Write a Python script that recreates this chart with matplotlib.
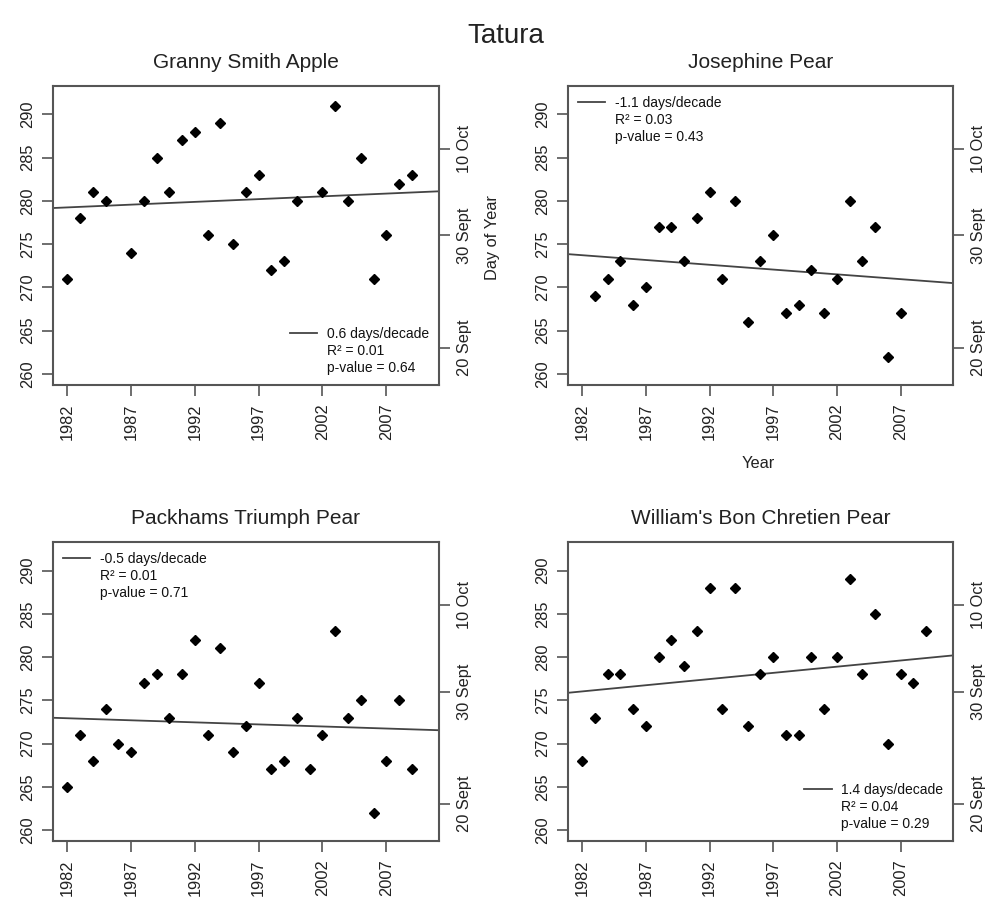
import numpy as np
import matplotlib
matplotlib.use('Agg')
import matplotlib.pyplot as plt
from matplotlib.lines import Line2D

plt.rcParams['font.family'] = ['Liberation Sans', 'DejaVu Sans']

# Data (harvest day of year)
years_granny = [1982, 1983, 1984, 1985, 1987, 1988, 1989, 1990, 1991, 1992, 1993, 1994, 1995, 1996,
                1997, 1998, 1999, 2000, 2002, 2003, 2004, 2005, 2006, 2007, 2008, 2009]
doy_granny = [271, 278, 281, 280, 274, 280, 285, 281, 287, 288, 276, 289, 275, 281,
              283, 272, 273, 280, 281, 291, 280, 285, 271, 276, 282, 283]

years_josephine = [1983, 1984, 1985, 1986, 1987, 1988, 1989, 1990, 1991, 1992, 1993, 1994, 1995,
                   1996, 1997, 1998, 1999, 2000, 2001, 2002, 2003, 2004, 2005, 2006, 2007]
doy_josephine = [269, 271, 273, 268, 270, 277, 277, 273, 278, 281, 271, 280, 266,
                 273, 276, 267, 268, 272, 267, 271, 280, 273, 277, 262, 267]

years_packham = list(range(1982, 2010))
doy_packham = [265, 271, 268, 274, 270, 269, 277, 278, 273, 278, 282, 271, 281, 269,
               272, 277, 267, 268, 273, 267, 271, 283, 273, 275, 262, 268, 275, 267]

years_william = list(range(1982, 2010))
doy_william = [268, 273, 278, 278, 274, 272, 280, 282, 279, 283, 288, 274, 288, 272,
               278, 280, 271, 271, 280, 274, 280, 289, 278, 285, 270, 278, 277, 283]

titles = ['Granny Smith Apple', 'Josephine Pear', 'Packhams Triumph Pear', "William's Bon Chretien Pear"]
legend_texts = [['0.6 days/decade', 'R\u00b2 = 0.01', 'p-value = 0.64'],
                ['-1.1 days/decade', 'R\u00b2 = 0.03', 'p-value = 0.43'],
                ['-0.5 days/decade', 'R\u00b2 = 0.01', 'p-value = 0.71'],
                ['1.4 days/decade', 'R\u00b2 = 0.04', 'p-value = 0.29']]
legend_locs = ['lower right', 'upper left', 'upper left', 'lower right']

year_ticks = [1982, 1987, 1992, 1997, 2002, 2007]
doy_ticks = [260, 265, 270, 275, 280, 285, 290]
date_ticks = [286, 276, 263]
date_labels = ['10 Oct', '30 Sept', '20 Sept']

txt = '#222222'
frame = '#555555'

fig = plt.figure(figsize=(10.05, 9.02), dpi=100)

positions = [[0.0527, 0.5732, 0.384, 0.3315],
             [0.565, 0.5732, 0.3834, 0.3315],
             [0.0527, 0.0676, 0.384, 0.3311],
             [0.565, 0.0676, 0.3834, 0.3311]]

data = [(years_granny, doy_granny), (years_josephine, doy_josephine),
        (years_packham, doy_packham), (years_william, doy_william)]

for i in range(4):
    ax = fig.add_axes(positions[i])
    x = np.array(data[i][0])
    y = np.array(data[i][1])
    ax.plot(x, y, 'D', color='black', ms=4.6, zorder=3)

    # linear trend across the whole plot region
    slope, intercept = np.polyfit(x, y, 1)
    xl = np.array([1980.88, 2011.12])
    ax.plot(xl, slope * xl + intercept, color='#444444', lw=1.3)

    ax.set_xlim(1980.88, 2011.12)
    ax.set_ylim(258.72, 293.28)
    ax.set_xticks(year_ticks)
    ax.set_xticklabels([str(v) for v in year_ticks], rotation=90)
    ax.set_yticks(doy_ticks)
    ax.set_yticklabels([str(v) for v in doy_ticks], rotation=90, va='center')
    ax.tick_params(colors=frame, labelcolor=txt, labelsize=11.8, length=8, width=1.2, pad=5)
    for s in ax.spines.values():
        s.set_color(frame)
        s.set_linewidth(1.5)
    ax.set_title(titles[i], fontsize=15, color=txt, pad=13)

    ax2 = ax.twinx()
    ax2.set_ylim(ax.get_ylim())
    ax2.set_yticks(date_ticks)
    ax2.set_yticklabels(date_labels, rotation=90, va='center')
    ax2.tick_params(colors=frame, labelcolor=txt, labelsize=11.8, length=8, width=1.2, pad=5)
    for s in ax2.spines.values():
        s.set_visible(False)

    handles = [Line2D([], [], color='#444444', lw=1.3),
               Line2D([], [], color='none'),
               Line2D([], [], color='none')]
    leg = ax.legend(handles, legend_texts[i], loc=legend_locs[i], frameon=False,
                    fontsize=10, handlelength=2.0, handletextpad=0.7,
                    labelspacing=0.22, borderaxespad=0.3)
    for t in leg.get_texts():
        t.set_color('#111111')
    ax.set_zorder(ax2.get_zorder() + 1)
    ax.patch.set_visible(False)

fig.text(0.503, 0.960, 'Tatura', fontsize=20, color=txt, ha='center', va='center')
fig.text(0.490, 0.737, 'Day of Year', fontsize=11.8, color=txt, rotation=90, ha='center', va='center')
fig.text(0.754, 0.486, 'Year', fontsize=11.8, color=txt, ha='center', va='center')

fig.savefig('out.png', dpi=100, facecolor='white')
